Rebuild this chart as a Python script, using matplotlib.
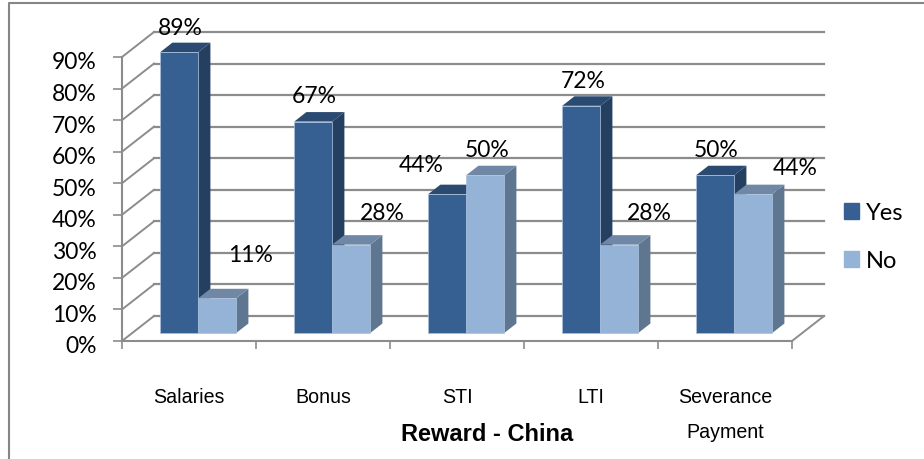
import matplotlib
matplotlib.use('Agg')
import matplotlib.pyplot as plt
from matplotlib.lines import Line2D
from matplotlib.patches import Patch
from matplotlib.transforms import ScaledTranslation

categories = ['Salaries', 'Bonus', 'STI', 'LTI', 'Severance\nPayment']
yes_values = [89, 67, 44, 72, 50]
no_values = [11, 28, 50, 28, 44]
y_ticks = [0, 10, 20, 30, 40, 50, 60, 70, 80, 90]

# label nudges in pixels, from top centre of the front face
yes_nudge = [(1, 25), (1, 26), (-26, 30), (2, 25), (1, 26)]
no_nudge = [(33, 44), (31, 32), (2, 26), (30, 32), (42, 27)]

W, H = 924, 460
DPI = 100

# oblique 3d look, in data units
DX = 32 / 134
DY = 25 / (284 / 90)
Z0, Z1 = 0.32, 0.70
BAR_W = 38 / 134
MARGIN = 28 / 134

GRID = '#8c8c8c'
TICK_FONT = 'Lato'
CAT_FONT = 'Liberation Sans'

fig = plt.figure(figsize=(W / DPI, H / DPI), dpi=DPI)
ax = fig.add_axes([122 / W, (H - 342) / H, (792 - 122) / W, 284 / H])
ax.set_xlim(0, 5)
ax.set_ylim(0, 90)

# chart frame, only top and left fall inside the picture
fig.add_artist(Line2D([9 / W, 9 / W, 1], [0, (H - 4) / H, (H - 4) / H], color='#868686', lw=1.5))

for spine in ['top', 'right']:
    ax.spines[spine].set_visible(False)
for spine in ['left', 'bottom']:
    ax.spines[spine].set_color(GRID)
    ax.spines[spine].set_linewidth(1.5)

# walls and floor
for t in y_ticks:
    ax.plot([0, DX], [t, t + DY], color=GRID, lw=1.4, clip_on=False, zorder=1)
    ax.plot([DX, 5 + DX], [t + DY, t + DY], color=GRID, lw=1.6, clip_on=False, zorder=1)
ax.plot([5, 5 + DX], [0, DY], color=GRID, lw=1.4, clip_on=False, zorder=1)


def draw_bar(x, value, front, side, top, z):
    x0 = x + Z0 * DX
    x1 = x0 + BAR_W
    y0 = Z0 * DY
    y1 = y0 + value
    d = Z1 - Z0
    ax.fill([x1, x1 + d * DX, x1 + d * DX, x1], [y0, y0 + d * DY, y1 + d * DY, y1],
            color=side, lw=0, clip_on=False, zorder=z)
    ax.fill([x0, x0 + d * DX, x1 + d * DX, x1], [y1, y1 + d * DY, y1 + d * DY, y1],
            color=top, lw=0, clip_on=False, zorder=z)
    ax.bar(x0, value, BAR_W, bottom=y0, align='edge', color=front, edgecolor='#a9c0de',
           lw=0.5, clip_on=False, zorder=z + 0.5)
    return (x0 + x1) / 2, y1


z = 3
for i in range(len(categories)):
    cx, cy = draw_bar(i + MARGIN, yes_values[i], '#376092', '#243f60', '#2a4a72', z)
    ax.annotate('%d%%' % yes_values[i], (cx, cy), xytext=(yes_nudge[i][0] * 0.72, yes_nudge[i][1] * 0.72),
                textcoords='offset points', ha='center', va='center', fontsize=16.5,
                family=TICK_FONT, color='black', annotation_clip=False, zorder=20)
    cx, cy = draw_bar(i + MARGIN + BAR_W, no_values[i], '#95b3d7', '#5f7690', '#7088a6', z + 1)
    ax.annotate('%d%%' % no_values[i], (cx, cy), xytext=(no_nudge[i][0] * 0.72, no_nudge[i][1] * 0.72),
                textcoords='offset points', ha='center', va='center', fontsize=16.5,
                family=TICK_FONT, color='black', annotation_clip=False, zorder=20)
    z += 2

ax.set_yticks(y_ticks)
ax.set_yticklabels(['%d%%' % t for t in y_ticks], fontsize=16.5, family=TICK_FONT)
ax.tick_params(axis='y', length=6.5, width=1.2, color=GRID, pad=11.7)
shift = ScaledTranslation(0, -3 / DPI, fig.dpi_scale_trans)
for label in ax.get_yticklabels():
    label.set_transform(label.get_transform() + shift)

ax.set_xticks(range(6))
ax.set_xticklabels([])
ax.set_xticks([i + 0.5 for i in range(5)], minor=True)
ax.set_xticklabels(categories, minor=True, fontsize=14.1, family=CAT_FONT, linespacing=2.1)
ax.tick_params(axis='x', which='major', length=6, width=1.2, color=GRID)
ax.tick_params(axis='x', which='minor', length=0, pad=33)

ax.set_xlabel('Reward - China', fontsize=17, fontweight='bold', family=CAT_FONT, va='center')
ax.xaxis.set_label_coords((487 - 122) / 670, -(435 - 342) / 284)

ax.legend(handles=[Patch(color='#376092', label='Yes'), Patch(color='#95b3d7', label='No')],
          loc='upper left', bbox_to_anchor=(844 / W, (H - 203) / H), bbox_transform=fig.transFigure,
          frameon=False, prop={'family': TICK_FONT, 'size': 17},
          handlelength=0.64, handleheight=0.64, handletextpad=0.3, labelspacing=1.15,
          borderpad=0, borderaxespad=0)

fig.savefig('out.png', dpi=DPI)
